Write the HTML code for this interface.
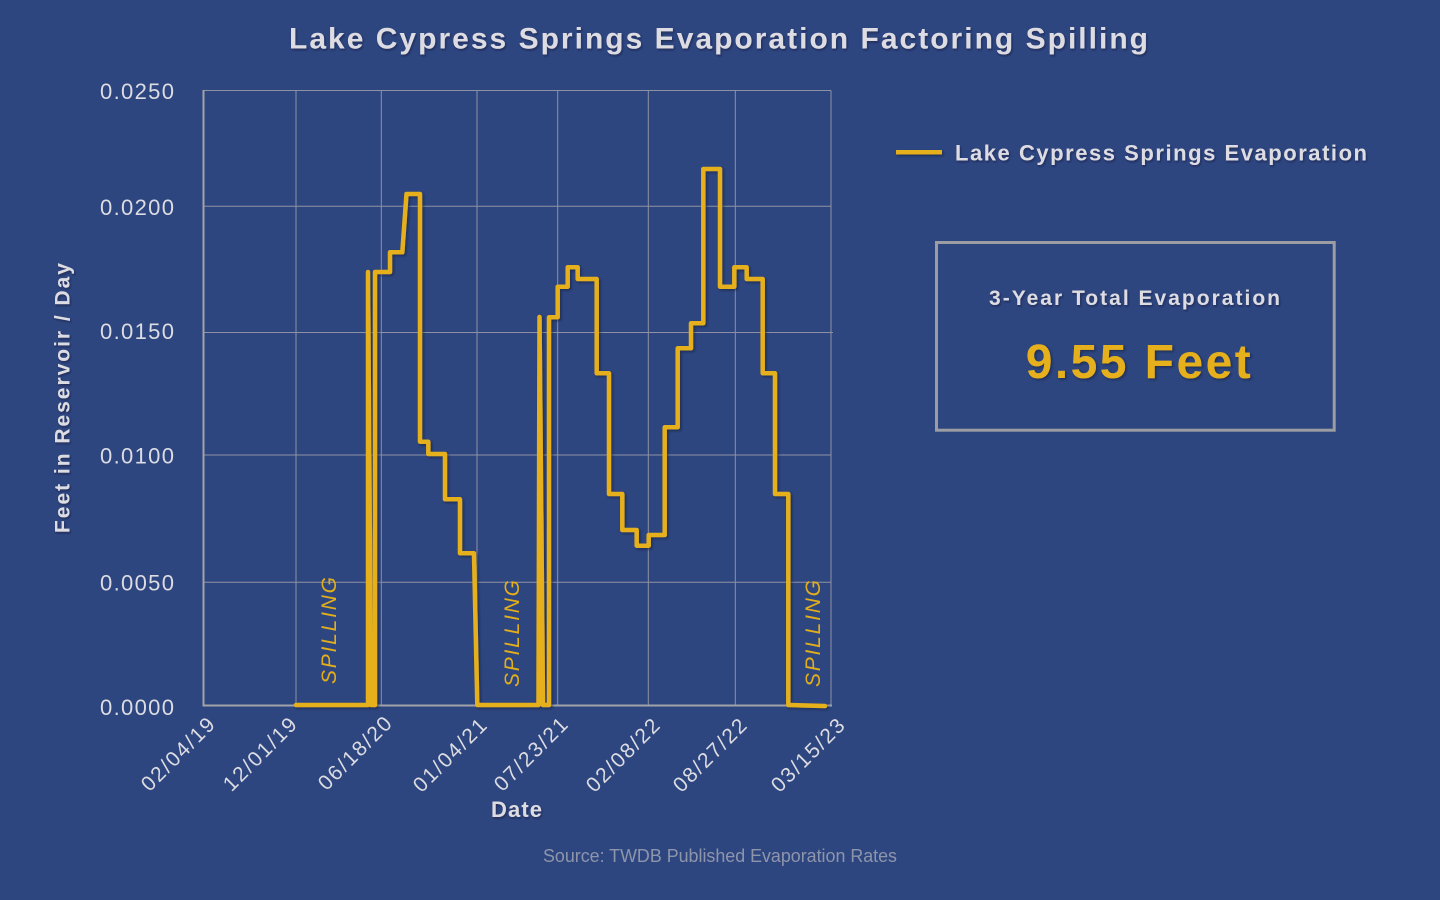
<!DOCTYPE html>
<html>
<head>
<meta charset="utf-8">
<style>
html,body{margin:0;padding:0;background:#2E4680;}
svg{display:block;}
text{font-family:"Liberation Sans", Arial, sans-serif;}
</style>
</head>
<body>
<svg width="1440" height="900" viewBox="0 0 1440 900" xmlns="http://www.w3.org/2000/svg">
<defs>
<filter id="sh" filterUnits="userSpaceOnUse" x="0" y="0" width="1440" height="900">
<feDropShadow dx="1.5" dy="1.5" stdDeviation="1.2" flood-color="#101a38" flood-opacity="0.6"/>
</filter>
<filter id="tsh" filterUnits="userSpaceOnUse" x="0" y="0" width="1440" height="900">
<feDropShadow dx="1" dy="1.5" stdDeviation="1" flood-color="#0f1835" flood-opacity="0.55"/>
</filter>
</defs>
<rect x="0" y="0" width="1440" height="900" fill="#2E4680"/>

<!-- Title -->
<text x="289" y="48.5" font-size="30" font-weight="bold" fill="#DCDCE2" textLength="859" lengthAdjust="spacing" filter="url(#tsh)">Lake Cypress Springs Evaporation Factoring Spilling</text>

<!-- Grid -->
<g stroke="#8D91A3" stroke-width="1" fill="none">
<line x1="203.5" y1="206.3" x2="831" y2="206.3"/>
<line x1="203.5" y1="332.5" x2="833" y2="332.5"/>
<line x1="203.5" y1="455" x2="831" y2="455"/>
<line x1="203.5" y1="582.3" x2="831" y2="582.3"/>
<line x1="296" y1="90.5" x2="296" y2="705"/>
<line x1="381.3" y1="90.5" x2="381.3" y2="705"/>
<line x1="477" y1="90.5" x2="477" y2="705"/>
<line x1="557.7" y1="90.5" x2="557.7" y2="705"/>
<line x1="648.3" y1="90.5" x2="648.3" y2="705"/>
<line x1="735.3" y1="90.5" x2="735.3" y2="705"/>
<line x1="831" y1="90.5" x2="831" y2="705"/>
<line x1="203.5" y1="90.5" x2="831" y2="90.5"/>
</g>
<g stroke="#A2A3A8" stroke-width="2" fill="none">
<line x1="203.5" y1="90" x2="203.5" y2="706"/>
<line x1="202.5" y1="705.5" x2="832" y2="705.5"/>
</g>

<!-- Y labels -->
<g font-size="22" fill="#DCDCE2" text-anchor="end">
<text x="174" y="99" textLength="74" lengthAdjust="spacing">0.0250</text>
<text x="174" y="215" textLength="74" lengthAdjust="spacing">0.0200</text>
<text x="174" y="339" textLength="74" lengthAdjust="spacing">0.0150</text>
<text x="174" y="463.5" textLength="74" lengthAdjust="spacing">0.0100</text>
<text x="174" y="590.5" textLength="74" lengthAdjust="spacing">0.0050</text>
<text x="174" y="715" textLength="74" lengthAdjust="spacing">0.0000</text>
</g>

<!-- Y axis title -->
<g filter="url(#tsh)">
<text transform="translate(69.5,398) rotate(-90)" text-anchor="middle" font-size="21" font-weight="bold" fill="#DCDCE2" textLength="270" lengthAdjust="spacing">Feet in Reservoir / Day</text>
</g>

<!-- X labels -->
<g font-size="21" fill="#DCDCE2" text-anchor="end">
<text transform="translate(216,726) rotate(-45)" textLength="94" lengthAdjust="spacing">02/04/19</text>
<text transform="translate(298,726) rotate(-45)" textLength="94" lengthAdjust="spacing">12/01/19</text>
<text transform="translate(393,725) rotate(-45)" textLength="94" lengthAdjust="spacing">06/18/20</text>
<text transform="translate(488,727) rotate(-45)" textLength="94" lengthAdjust="spacing">01/04/21</text>
<text transform="translate(569,726) rotate(-45)" textLength="94" lengthAdjust="spacing">07/23/21</text>
<text transform="translate(661,727) rotate(-45)" textLength="94" lengthAdjust="spacing">02/08/22</text>
<text transform="translate(748,727) rotate(-45)" textLength="94" lengthAdjust="spacing">08/27/22</text>
<text transform="translate(846,727) rotate(-45)" textLength="94" lengthAdjust="spacing">03/15/23</text>
</g>

<!-- X axis title -->
<text x="491" y="817" font-size="22" font-weight="bold" fill="#DCDCE2" textLength="51" lengthAdjust="spacing" filter="url(#tsh)">Date</text>

<!-- SPILLING labels -->
<g font-size="21" font-style="italic" fill="#E3AE1B" text-anchor="start">
<text transform="translate(336,684) rotate(-90)" textLength="107" lengthAdjust="spacing">SPILLING</text>
<text transform="translate(519,687) rotate(-90)" textLength="107" lengthAdjust="spacing">SPILLING</text>
<text transform="translate(820,687) rotate(-90)" textLength="107" lengthAdjust="spacing">SPILLING</text>
</g>

<!-- Series -->
<path filter="url(#sh)" fill="none" stroke="#E5B01C" stroke-width="4.5" stroke-linejoin="round" stroke-linecap="round"
d="M296 705 L368 705 L368 272 L371 705 L375 705 L375 272 L390 272 L390 252.3 L402.3 252.3 L406.5 194 L420 194 L420 441.7 L428.3 441.7 L428.3 454 L445 454 L445 499.3 L460 499.3 L460 553.3 L474 553.3 L477.3 705 L538.5 705 L539.5 317 L543 705 L549 705 L549 317.3 L557.7 317.3 L557.7 286.7 L567.7 286.7 L567.7 267.3 L577.7 267.3 L577.7 279 L596.7 279 L596.7 373.3 L609 373.3 L609 494 L622.3 494 L622.3 530 L636.7 530 L636.7 545.7 L648.7 545.7 L648.7 535 L664.7 535 L664.7 427.3 L677.7 427.3 L677.7 348.3 L691 348.3 L691 323.3 L703.3 323.3 L703.3 169 L720 169 L720 286.7 L734.3 286.7 L734.3 267.3 L746.7 267.3 L746.7 279 L762.7 279 L762.7 373.3 L775 373.3 L775 494 L788.3 494 L788.3 705 L825 706"/>

<!-- Legend -->
<rect x="896" y="150" width="46" height="4.5" fill="#E5B01C" filter="url(#sh)"/>
<text x="955" y="160.5" font-size="22" font-weight="bold" fill="#DCDCE2" textLength="412" lengthAdjust="spacing" filter="url(#tsh)">Lake Cypress Springs Evaporation</text>

<!-- Box -->
<rect x="936.5" y="242.5" width="397.7" height="187.7" fill="none" stroke="#9C9DA3" stroke-width="3"/>
<text x="989" y="305" font-size="21" font-weight="bold" fill="#DCDCE2" textLength="291" lengthAdjust="spacing" filter="url(#tsh)">3-Year Total Evaporation</text>
<text x="1025.7" y="378" font-size="48" font-weight="bold" fill="#E5B01C" textLength="225" lengthAdjust="spacing" filter="url(#sh)">9.55 Feet</text>

<!-- Source -->
<text x="543" y="862" font-size="18" fill="#8E95AB" textLength="354" lengthAdjust="spacingAndGlyphs">Source: TWDB Published Evaporation Rates</text>
</svg>
</body>
</html>
